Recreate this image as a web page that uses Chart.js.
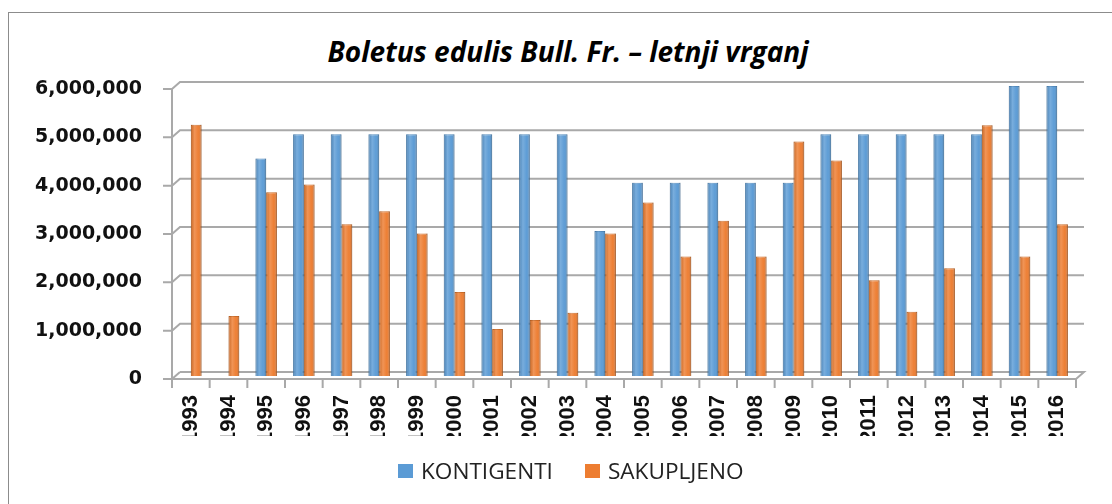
<!DOCTYPE html>
<html>
<head>
<meta charset="utf-8">
<script src="https://cdn.jsdelivr.net/npm/chart.js@4/dist/chart.umd.min.js"></script>
<style>
  html, body { margin: 0; padding: 0; background: #fff; }
  #wrap { position: relative; width: 1112px; height: 504px; overflow: hidden; }
  #frame { position: absolute; left: 8px; top: 12px; width: 1200px; height: 600px;
           border-top: 1px solid #8c8c8c; border-left: 1px solid #8c8c8c; }
  #chart { position: absolute; left: 0; top: 0; }
  #title { position: absolute; left: 0; width: 1136px; top: 34px; text-align: center;
           font: italic bold 28px "Open Sans"; line-height: 34px; color: #000; }
  #legend { position: absolute; left: 398px; top: 457px; display: flex; align-items: center;
            font: 22.6px "Open Sans"; line-height: 28px; color: #222; }
  #legend .item { display: flex; align-items: center; margin-right: 32px; }
  #legend .box { width: 15px; height: 14px; margin-right: 8px; }
</style>
</head>
<body>
<div id="wrap">
  <div id="frame"></div>
  <div id="title"></div>
  <canvas id="chart" width="1112" height="504"></canvas>
  <div id="legend"></div>
</div>
<script>
// data
const titleText = "Boletus edulis Bull. Fr. \u2013 letnji vrganj";
const years = ["1993","1994","1995","1996","1997","1998","1999","2000","2001","2002","2003","2004",
               "2005","2006","2007","2008","2009","2010","2011","2012","2013","2014","2015","2016"];
const kontigenti = [0, 0, 4500000, 5000000, 5000000, 5000000, 5000000, 5000000, 5000000, 5000000, 5000000, 3000000,
                    4000000, 4000000, 4000000, 4000000, 4000000, 5000000, 5000000, 5000000, 5000000, 5000000, 6000000, 6000000];
const sakupljeno = [5200000, 1240000, 3800000, 3960000, 3140000, 3410000, 2950000, 1740000, 970000, 1160000, 1310000, 2950000,
                    3590000, 2470000, 3210000, 2470000, 4850000, 4460000, 1980000, 1330000, 2230000, 5190000, 2470000, 3140000];
const seriesNames = ["KONTIGENTI", "SAKUPLJENO"];
const seriesColors = ["#5B9BD5", "#ED7D31"];
const seriesBorders = ["#4a85bb", "#c9651f"];

document.getElementById("title").textContent = titleText;

// Excel-like 3D frame: front plane a bit below the bars, back wall up and right
const DF = 3, DX = 8, DY = -7;
const framePlugin = {
    id: "frame3d",
    beforeDatasetsDraw(chart) {
        const ctx = chart.ctx, a = chart.chartArea;
        const ys = chart.scales.y, xs = chart.scales.x;
        ctx.save();
        ctx.strokeStyle = "#a9a9a9";
        ctx.lineWidth = 2;
        ctx.beginPath();
        ys.ticks.forEach(t => {
            const y = ys.getPixelForValue(t.value) + DF;
            ctx.moveTo(a.left - 9, y);
            ctx.lineTo(a.left, y);
            ctx.lineTo(a.left + DX, y + DY);
            if (t.value !== 0) ctx.lineTo(a.right + DX, y + DY);
        });
        // floor
        const yb = ys.getPixelForValue(0) + DF;
        ctx.moveTo(a.left + DX, yb + DY);
        ctx.lineTo(a.right + DX, yb + DY);
        ctx.lineTo(a.right, yb);
        ctx.lineTo(a.left, yb);
        ctx.lineTo(a.left, ys.getPixelForValue(ys.max) + DF);
        // category ticks
        const step = xs.getPixelForValue(1) - xs.getPixelForValue(0);
        for (let i = 0; i <= years.length; i++) {
            const x = xs.getPixelForValue(0) - step / 2 + i * step;
            ctx.moveTo(x, yb);
            ctx.lineTo(x, yb + 9);
        }
        ctx.stroke();
        ctx.restore();
    },
    afterDatasetsDraw(chart) {
        // cylinder-ish shading on each bar
        const ctx = chart.ctx;
        ctx.save();
        chart.data.datasets.forEach((ds, di) => {
            chart.getDatasetMeta(di).data.forEach(b => {
                const h = b.base - b.y;
                if (h <= 0.5) return;
                const x0 = b.x - b.width / 2, x1 = b.x + b.width / 2;
                const g = ctx.createLinearGradient(x0, 0, x1, 0);
                g.addColorStop(0, "rgba(0,0,0,0.12)");
                g.addColorStop(0.35, "rgba(255,255,255,0.18)");
                g.addColorStop(0.7, "rgba(255,255,255,0.02)");
                g.addColorStop(1, "rgba(0,0,0,0.22)");
                ctx.fillStyle = g;
                ctx.fillRect(x0, b.y, b.width, h);
            });
        });
        ctx.restore();
    }
};

const datasets = [kontigenti, sakupljeno].map((vals, i) => ({
    label: seriesNames[i],
    data: vals,
    backgroundColor: seriesColors[i],
    borderColor: seriesBorders[i],
    borderWidth: 1,
    categoryPercentage: 0.57,
    barPercentage: 1.0
}));

// html legend from the same series arrays
const legendEl = document.getElementById("legend");
seriesNames.forEach((name, i) => {
    const item = document.createElement("div");
    item.className = "item";
    const box = document.createElement("div");
    box.className = "box";
    box.style.background = seriesColors[i];
    const txt = document.createElement("span");
    txt.textContent = name;
    item.appendChild(box);
    item.appendChild(txt);
    legendEl.appendChild(item);
});

const chart = new Chart(document.getElementById("chart"), {
    type: "bar",
    data: { labels: years, datasets: datasets },
    plugins: [framePlugin],
    options: {
        responsive: false,
        animation: false,
        layout: { padding: { top: 86, left: 0, right: 36, bottom: 68 } },
        plugins: {
            legend: { display: false },
            title: { display: false },
            tooltip: { enabled: false }
        },
        scales: {
            x: {
                grid: { display: false, drawTicks: false },
                border: { display: false },
                ticks: {
                    autoSkip: false, minRotation: 90, maxRotation: 90, padding: 19,
                    color: "#111", font: { family: "Liberation Sans", weight: "bold", size: 22 }
                },
                afterFit(s) { s.height = 60; }
            },
            y: {
                min: 0, max: 6000000,
                grid: { display: false, drawTicks: false },
                border: { display: false },
                ticks: {
                    stepSize: 1000000, padding: 30, labelOffset: 3, color: "#111",
                    font: { family: "DejaVu Sans", weight: "bold", size: 19 },
                    callback: v => v.toLocaleString("en-US")
                },
                afterFit(s) { s.width = 172; }
            }
        }
    }
});
</script>
</body>
</html>
